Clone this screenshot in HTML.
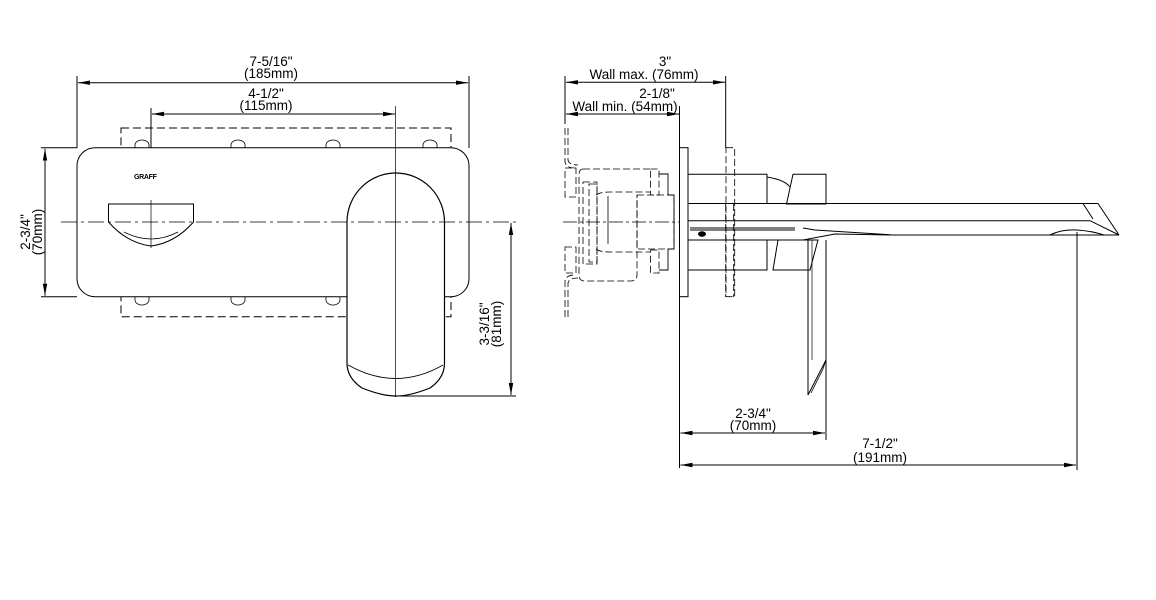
<!DOCTYPE html>
<html><head><meta charset="utf-8"><style>
html,body{margin:0;padding:0;background:#fff;width:1156px;height:600px;overflow:hidden}
svg text{font-family:"Liberation Sans",sans-serif;font-size:13.5px;fill:#000}
</style></head><body>
<svg width="1156" height="600" viewBox="0 0 1156 600" xmlns="http://www.w3.org/2000/svg">
<defs>
<marker id="a" viewBox="0 0 12 6" refX="12" refY="3" markerWidth="12" markerHeight="6" markerUnits="userSpaceOnUse" orient="auto-start-reverse"><path d="M0,0.8 L12,3 L0,5.2Z" fill="#000"/></marker>
</defs>
<g fill="none" stroke="#000" stroke-width="1">
<line x1="77" y1="76" x2="77" y2="148"/>
<line x1="469" y1="76" x2="469" y2="148"/>
<line x1="78" y1="82.7" x2="468" y2="82.7" marker-start="url(#a)" marker-end="url(#a)"/>
<line x1="151" y1="108" x2="151" y2="240"/>
<line x1="152" y1="114" x2="395" y2="114" marker-start="url(#a)" marker-end="url(#a)"/>
<rect x="121" y="128" width="330" height="188.7" stroke-dasharray="8,4"/>
<g stroke-width="0.8">
<path d="M135,148 v-3 a7,5 0 0 1 14,0 v3"/><path d="M231,148 v-3 a7,5 0 0 1 14,0 v3"/>
<path d="M326,148 v-3 a7,5 0 0 1 14,0 v3"/><path d="M423,148 v-3 a7,5 0 0 1 14,0 v3"/>
<path d="M135,297 v3 a7,5 0 0 0 14,0 v-3"/><path d="M231,297 v3 a7,5 0 0 0 14,0 v-3"/>
<path d="M326,297 v3 a7,5 0 0 0 14,0 v-3"/><path d="M438,297 v3 a6,5 0 0 1 -6,5"/>
</g>
<rect x="77" y="147.7" width="392" height="149" rx="18" fill="#fff"/>
<line x1="41" y1="147.7" x2="77" y2="147.7"/>
<line x1="41" y1="296.7" x2="77" y2="296.7"/>
<line x1="45" y1="148.7" x2="45" y2="295.7" marker-start="url(#a)" marker-end="url(#a)"/>
<path d="M108.5,204 H193.5 V222 Q175,243 151,246 Q127,243 108.5,222 Z" fill="#fff"/>
<path d="M124,232 Q151,246 178,232" stroke-width="0.8"/>
<path d="M347,222 A48.75,49 0 0 1 444.5,222 V363 Q444.5,378 430,388 Q410,396 396,396 Q382,396 362,388 Q347,378 347,363 Z" fill="#fff" stroke-width="1.2"/>
<path d="M348,365 Q396,392 443,365" stroke-width="0.9"/>
<line x1="61" y1="222" x2="516" y2="222" stroke-width="0.8" stroke-dasharray="16,4,3,4"/>
<line x1="395.5" y1="106" x2="395.5" y2="397" stroke-width="0.7"/>
<line x1="151" y1="200" x2="151" y2="248" stroke-width="0.7"/>
<line x1="396" y1="396" x2="516" y2="396"/>
<line x1="511" y1="223" x2="511" y2="395" marker-start="url(#a)" marker-end="url(#a)"/>

<line x1="565" y1="76" x2="565" y2="124"/>
<line x1="725.7" y1="76" x2="725.7" y2="148"/>
<line x1="566" y1="82.3" x2="725" y2="82.3" marker-start="url(#a)" marker-end="url(#a)"/>
<line x1="566" y1="114" x2="679" y2="114" marker-start="url(#a)" marker-end="url(#a)"/>
<line x1="679.5" y1="106" x2="679.5" y2="468"/>
<g stroke-dasharray="7,3" stroke-width="0.8">
<path d="M565,128 V162 Q566,168 575,168"/>
<path d="M568,128 V160 Q569,165 578,165"/>
<path d="M565,317 V281 Q566,275 575,275"/>
<path d="M568,317 V283 Q569,278 578,278"/>
<rect x="565" y="168" width="11" height="29"/>
<rect x="565" y="247" width="11" height="26"/>
<path d="M583,169 H650 M583,169 Q579,169 579,175 V275 Q579,281 585,281 H630 Q637,281 637,275 V195"/>
<rect x="589" y="184" width="8" height="78"/>
<rect x="583" y="182" width="14" height="82"/>
<path d="M596,195 Q600,192 610,192 H650 M596,249 Q600,252 610,252 H650"/>
<rect x="637" y="195" width="37" height="54"/>
<rect x="650.6" y="169" width="8.4" height="26"/>
<rect x="650.6" y="250" width="8.4" height="23"/>
<rect x="726" y="147.7" width="8.7" height="149"/>
</g>
<line x1="608" y1="196" x2="608" y2="244" stroke-width="0.8"/>
<line x1="563" y1="222" x2="680" y2="222" stroke-width="0.8" stroke-dasharray="14,3,3,3"/>
<path d="M659,174 H668 V195 H674 V249 H668 V270 H659" stroke-width="0.9"/>
<rect x="679.5" y="147.7" width="8.5" height="149" fill="#fff"/>
<path d="M688,174.3 H767 V204 M688,270 H767 V240"/>
<path d="M767,177 Q785,180 790,187"/>
<path d="M793,174.3 H826 V204 H786.5 Z"/>
<path d="M778,240 H818 L810,270 H773 Z"/>
<path d="M688,203.5 H1098 L1119,235"/>
<path d="M688,220.7 H1090 L1119,235"/>
<path d="M1083,203.5 L1093,219"/>
<path d="M1050,235 Q1062,229 1077,230 Q1092,231 1104,235"/>
<path d="M893,235 H1119"/>
<path d="M690,228 H795 M690,230 H795"/>
<path d="M688,240 H803 L835,234 L893,235 L815,230 L803,228"/>
<ellipse cx="702" cy="234" rx="3.5" ry="2.3" fill="#000"/>
<line x1="725.7" y1="204" x2="725.7" y2="297" stroke-dasharray="7,3" stroke-width="0.9"/>
<line x1="733.7" y1="204" x2="733.7" y2="297" stroke-dasharray="7,3" stroke-width="0.9"/>
<path d="M808,240 V395 L826,360 V240"/>
<path d="M811,393 L823,369 L826,360" stroke-width="0.8"/>
<line x1="812" y1="240" x2="812" y2="360" stroke-width="0.7"/>
<line x1="826" y1="300" x2="826" y2="440"/>
<line x1="1077" y1="232" x2="1077" y2="470"/>
<line x1="680.5" y1="433" x2="825" y2="433" marker-start="url(#a)" marker-end="url(#a)"/>
<line x1="680.5" y1="465" x2="1076" y2="465" marker-start="url(#a)" marker-end="url(#a)"/>
</g>
<text x="134" y="179" style="font-size:7px;font-weight:bold;letter-spacing:-0.3px">GRAFF</text>
<g text-anchor="middle">
<text x="271" y="66">7-5/16"</text><text x="271" y="78">(185mm)</text>
<text x="266" y="98">4-1/2"</text><text x="266" y="110">(115mm)</text>
<text x="665" y="66">3"</text><text x="644" y="79">Wall max. (76mm)</text>
<text x="657" y="98">2-1/8"</text><text x="625" y="111">Wall min. (54mm)</text>
<text x="753" y="418">2-3/4"</text><text x="753" y="430">(70mm)</text>
<text x="880" y="448">7-1/2"</text><text x="880" y="462">(191mm)</text>
<text transform="translate(30,232) rotate(-90)">2-3/4"</text>
<text transform="translate(42,232) rotate(-90)">(70mm)</text>
<text transform="translate(489,324) rotate(-90)">3-3/16"</text>
<text transform="translate(501,324) rotate(-90)">(81mm)</text>
</g>
</svg>
</body></html>
